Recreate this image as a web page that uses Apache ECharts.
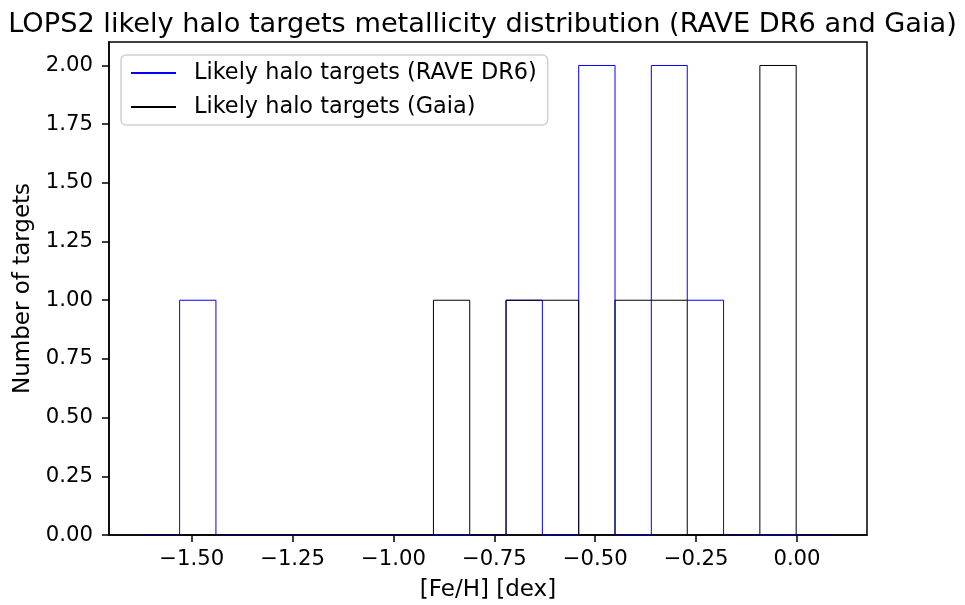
<!DOCTYPE html>
<html>
<head>
<meta charset="utf-8">
<title>LOPS2 likely halo targets metallicity distribution</title>
<script src="https://cdn.jsdelivr.net/npm/echarts@6/dist/echarts.min.js"></script>
<style>
  html, body { margin: 0; padding: 0; background: #fff; }
  #chart { width: 965px; height: 605px; }
</style>
</head>
<body>
<div id="chart"></div>
<script>
// Shared histogram bin edges ([Fe/H], dex) — 19 bins
const binEdges = [-1.620, -1.530, -1.440, -1.350, -1.260, -1.170, -1.081, -0.991,
  -0.901, -0.811, -0.721, -0.631, -0.541, -0.451, -0.361, -0.272, -0.182,
  -0.092, -0.002, 0.088];

// Counts per bin
const raveCounts = [0, 1, 0, 0, 0, 0, 0, 0, 0, 0, 1, 0, 2, 0, 2, 1, 0, 0, 0];
const gaiaCounts = [0, 0, 0, 0, 0, 0, 0, 0, 1, 0, 1, 1, 0, 1, 1, 0, 0, 2, 0];

const seriesNames = ['Likely halo targets (RAVE DR6)', 'Likely halo targets (Gaia)'];

// Tick positions
const xTicks = [-1.50, -1.25, -1.00, -0.75, -0.50, -0.25, 0.00];
const yTicks = [0.00, 0.25, 0.50, 0.75, 1.00, 1.25, 1.50, 1.75, 2.00];

// Outline of an unfilled step histogram: up the first edge, across each bin top, down the last edge
function stepOutline(edges, counts) {
  const pts = [[edges[0], 0]];
  for (let i = 0; i < counts.length; i++) {
    pts.push([edges[i], counts[i]]);
    pts.push([edges[i + 1], counts[i]]);
  }
  pts.push([edges[edges.length - 1], 0]);
  return pts;
}

const FONT = 'DejaVu Sans';
const fmt = v => v.toFixed(2).replace('-', '\u2212');

const chart = echarts.init(document.getElementById('chart'), null, { renderer: 'canvas' });
chart.setOption({
  animation: false,
  backgroundColor: '#ffffff',
  textStyle: { fontFamily: FONT },
  title: {
    text: 'LOPS2 likely halo targets metallicity distribution (RAVE DR6 and Gaia)',
    left: 'center',
    top: 6,
    textStyle: { fontFamily: FONT, fontSize: 27.2, fontWeight: 'normal', color: '#000' }
  },
  grid: {
    left: 109, right: 98, top: 42, bottom: 70,
    containLabel: false,
    outerBoundsMode: 'none',
    show: true,
    borderColor: '#000',
    borderWidth: 1.5,
    backgroundColor: 'transparent'
  },
  legend: {
    orient: 'vertical',
    left: 121,
    top: 55,
    data: seriesNames,
    itemWidth: 45,
    itemHeight: 21,
    itemGap: 12,
    padding: [7, 11, 7, 9],
    backgroundColor: '#fff',
    borderColor: '#d0d0d0',
    borderWidth: 1.5,
    borderRadius: 5,
    itemStyle: { opacity: 0 },
    textStyle: { fontFamily: FONT, fontSize: 22.4, color: '#000', padding: [0, 0, 0, 13] }
  },
  xAxis: {
    type: 'value',
    min: -1.705,
    max: 0.1735,
    name: '[Fe/H] [dex]',
    nameLocation: 'middle',
    nameGap: 44,
    nameTextStyle: { fontFamily: FONT, fontSize: 23, color: '#000' },
    splitLine: { show: false },
    axisLine: { show: true, onZero: false, lineStyle: { color: '#000', width: 1.5 } },
    axisTick: { show: true, customValues: xTicks, length: 7, lineStyle: { color: '#000', width: 1.5 } },
    axisLabel: {
      customValues: xTicks,
      formatter: fmt,
      margin: 14,
      fontFamily: FONT, fontSize: 21.2, color: '#000'
    }
  },
  yAxis: {
    type: 'value',
    min: 0,
    max: 2.1,
    name: 'Number of targets',
    nameLocation: 'middle',
    nameGap: 74,
    nameTextStyle: { fontFamily: FONT, fontSize: 23, color: '#000' },
    splitLine: { show: false },
    axisLine: { show: true, onZero: false, lineStyle: { color: '#000', width: 1.5 } },
    axisTick: { show: true, customValues: yTicks, length: 7, lineStyle: { color: '#000', width: 1.5 } },
    axisLabel: {
      customValues: yTicks,
      formatter: fmt,
      margin: 16,
      fontFamily: FONT, fontSize: 21.2, color: '#000'
    }
  },
  series: [
    {
      name: seriesNames[0],
      type: 'line',
      data: stepOutline(binEdges, raveCounts),
      symbol: 'none',
      showSymbol: false,
      color: '#0000ff',
      lineStyle: { color: '#0000ff', width: 1 },
      z: 2
    },
    {
      name: seriesNames[1],
      type: 'line',
      data: stepOutline(binEdges, gaiaCounts),
      symbol: 'none',
      showSymbol: false,
      color: '#000000',
      lineStyle: { color: '#000000', width: 1 },
      z: 3
    }
  ]
});
</script>
</body>
</html>
